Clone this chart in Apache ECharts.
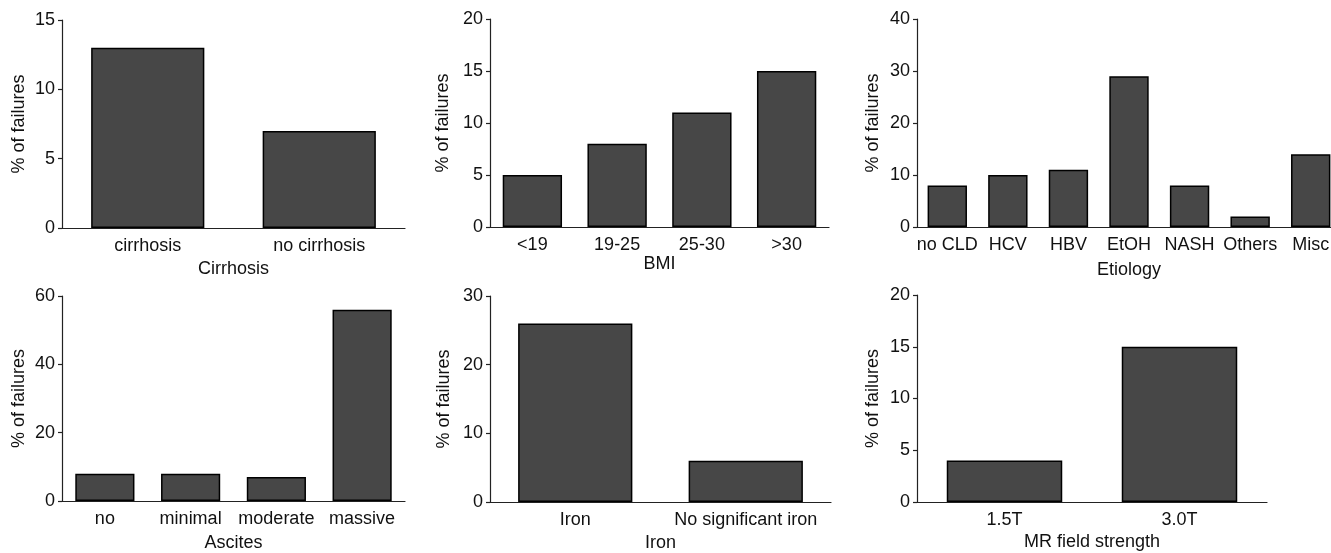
<!DOCTYPE html>
<html>
<head>
<meta charset="utf-8">
<script src="https://cdn.jsdelivr.net/npm/echarts@6/dist/echarts.min.js"></script>
<style>
html,body{margin:0;padding:0;background:#fff;overflow:hidden;width:1331px;height:553px;}
#c{width:1345px;height:553px;}
</style>
</head>
<body>
<div id="c"></div>
<script>
// ---- data ----
const cirrhosisCats = ['cirrhosis', 'no cirrhosis'];
const cirrhosisVals = [13, 7];
const bmiCats = ['<19', '19-25', '25-30', '>30'];
const bmiVals = [5, 8, 11, 15];
const etiologyCats = ['no CLD', 'HCV', 'HBV', 'EtOH', 'NASH', 'Others', 'Misc'];
const etiologyVals = [8, 10, 11, 29, 8, 2, 14];
const ascitesCats = ['no', 'minimal', 'moderate', 'massive'];
const ascitesVals = [8, 8, 7, 56];
const ironCats = ['Iron', 'No significant iron'];
const ironVals = [26, 6];
const mrCats = ['1.5T', '3.0T'];
const mrVals = [4, 15];

const yMax = [15, 20, 40, 60, 30, 20];
const yInterval = [5, 5, 10, 20, 10, 5];
const xNames = ['Cirrhosis', 'BMI', 'Etiology', 'Ascites', 'Iron', 'MR field strength'];
const yName = '% of failures';

const panels = [
  {cats: cirrhosisCats, vals: cirrhosisVals},
  {cats: bmiCats, vals: bmiVals},
  {cats: etiologyCats, vals: etiologyVals},
  {cats: ascitesCats, vals: ascitesVals},
  {cats: ironCats, vals: ironVals},
  {cats: mrCats, vals: mrVals}
];

// ---- layout ----
const grids = [
  {left: 62, top: 20, width: 343, height: 208},
  {left: 490, top: 19, width: 339, height: 208},
  {left: 917, top: 19, width: 424, height: 208},
  {left: 62, top: 296, width: 343, height: 206},
  {left: 490, top: 296, width: 341, height: 207},
  {left: 917, top: 295, width: 350, height: 207}
];
const barWidths = ['66%', '70%', '65%', '69%', '67%', '66%'];
const xNameGaps = [32, 24, 34, 33, 32, 31];
const yNameGaps = [34, 38, 35, 34, 37, 35];

const FONT = '"Liberation Sans", Arial, sans-serif';
const FS = 18;
const TXT = '#111';
const AX = '#222';

const option = {
  animation: false,
  backgroundColor: '#fff',
  grid: grids.map(g => Object.assign({containLabel: false}, g)),
  xAxis: panels.map((p, i) => ({
    type: 'category',
    gridIndex: i,
    data: p.cats,
    boundaryGap: true,
    name: xNames[i],
    nameLocation: 'middle',
    nameGap: xNameGaps[i],
    nameTextStyle: {fontFamily: FONT, fontSize: FS, color: TXT},
    axisLine: {lineStyle: {color: AX, width: 1.2}},
    axisTick: {alignWithLabel: true, length: 4, lineStyle: {color: AX, width: 1.2}},
    axisLabel: {fontFamily: FONT, fontSize: FS, color: TXT, margin: 9, interval: 0, hideOverlap: false},
    splitLine: {show: false}
  })),
  yAxis: panels.map((p, i) => ({
    type: 'value',
    gridIndex: i,
    min: 0,
    max: yMax[i],
    interval: yInterval[i],
    name: yName,
    nameLocation: 'middle',
    nameRotate: 90,
    nameGap: yNameGaps[i],
    nameTextStyle: {fontFamily: FONT, fontSize: FS, color: TXT},
    axisLine: {show: true, lineStyle: {color: AX, width: 1.2}},
    axisTick: {show: true, length: 4, lineStyle: {color: AX, width: 1.2}},
    axisLabel: {fontFamily: FONT, fontSize: FS, color: TXT, margin: 7},
    splitLine: {show: false}
  })),
  series: panels.map((p, i) => ({
    type: 'bar',
    xAxisIndex: i,
    yAxisIndex: i,
    data: p.vals,
    barWidth: barWidths[i],
    itemStyle: {color: '#474747', borderColor: '#000', borderWidth: 1.5}
  }))
};

const chart = echarts.init(document.getElementById('c'), null, {renderer: 'canvas'});
chart.setOption(option);
</script>
</body>
</html>
